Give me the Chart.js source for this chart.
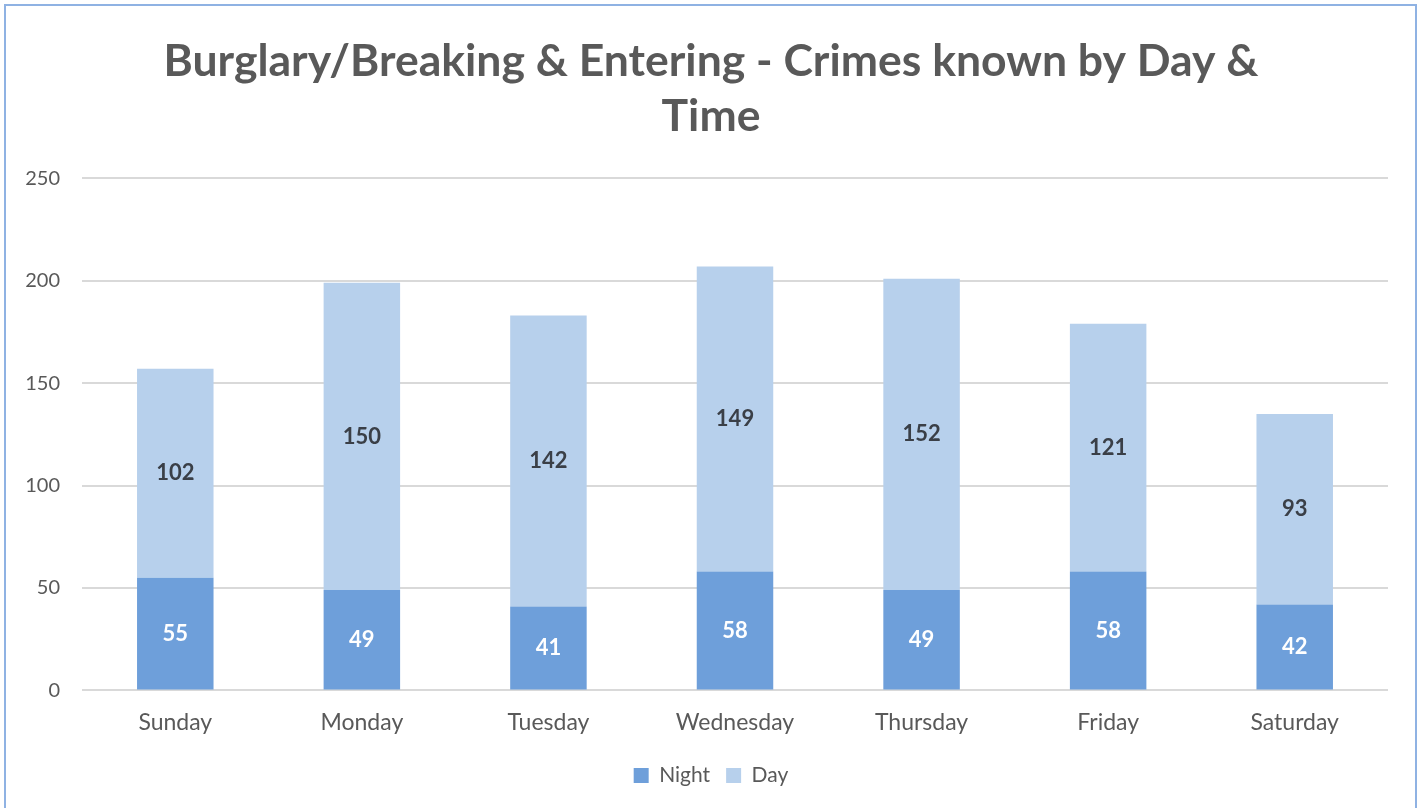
<!DOCTYPE html>
<html>
<head>
<meta charset="utf-8">
<script src="https://cdn.jsdelivr.net/npm/chart.js@4"></script>
<style>
  html, body { margin: 0; padding: 0; background: #ffffff; }
  #wrap { position: absolute; left: 0; top: 0; width: 1422px; height: 808px; }
  #frame { position: absolute; left: 4px; top: 4px; width: 1413px; height: 820px; border: 2px solid #8fb2e3; box-sizing: border-box; pointer-events: none; }
  canvas { position: absolute; left: 0; top: 0; }
</style>
</head>
<body>
<div id="wrap">
  <canvas id="c" width="1422" height="808"></canvas>
  <div id="frame"></div>
</div>
<script>
const categories = ["Sunday", "Monday", "Tuesday", "Wednesday", "Thursday", "Friday", "Saturday"];
const nightValues = [55, 49, 41, 58, 49, 58, 42];
const dayValues = [102, 150, 142, 149, 152, 121, 93];
const titleLines = ["Burglary/Breaking & Entering - Crimes known by Day &", "Time"];

const FONT = "Lato, 'Open Sans', sans-serif";

const segmentLabels = {
  id: 'segmentLabels',
  afterDatasetsDraw(chart) {
    const ctx = chart.ctx;
    ctx.save();
    ctx.font = "bold 22px " + FONT;
    ctx.textAlign = 'center';
    ctx.textBaseline = 'middle';
    chart.data.datasets.forEach((ds, i) => {
      const meta = chart.getDatasetMeta(i);
      ctx.fillStyle = ds.labelColor;
      meta.data.forEach((el, j) => {
        const p = el.getProps(['x', 'y', 'base'], true);
        ctx.fillText(String(ds.data[j]), p.x, (p.y + p.base) / 2);
      });
    });
    ctx.restore();
  }
};

new Chart(document.getElementById('c'), {
  type: 'bar',
  data: {
    labels: categories,
    datasets: [
      { label: 'Night', data: nightValues, backgroundColor: '#6e9fda', labelColor: '#ffffff',
        barPercentage: 0.41, categoryPercentage: 1.0 },
      { label: 'Day', data: dayValues, backgroundColor: '#b7d0ec', labelColor: '#3a3f47',
        barPercentage: 0.41, categoryPercentage: 1.0 }
    ]
  },
  options: {
    responsive: false,
    animation: false,
    layout: { padding: { left: 8, right: 8, top: 0, bottom: 12 } },
    plugins: {
      title: {
        display: true,
        text: titleLines,
        color: '#595959',
        font: { family: FONT, size: 44.5, weight: 'bold', lineHeight: 1.24 },
        padding: { top: 34, bottom: 34 }
      },
      legend: {
        position: 'bottom',
        labels: {
          color: '#595959',
          font: { family: FONT, size: 21 },
          boxWidth: 15, boxHeight: 15, padding: 16
        }
      },
      tooltip: { enabled: false }
    },
    scales: {
      x: {
        stacked: true,
        grid: { display: false },
        border: { display: false },
        afterFit: (scale) => { scale.height += 3; },
        ticks: { color: '#595959', font: { family: FONT, size: 23 }, padding: 10 }
      },
      y: {
        stacked: true,
        min: 0, max: 250,
        afterFit: (scale) => { scale.width = 74; },
        ticks: { stepSize: 50, color: '#595959', font: { family: FONT, size: 20 }, padding: 22 },
        grid: { color: '#d9d9d9', lineWidth: 2, drawTicks: false },
        border: { display: false }
      },
      spacer: {
        type: 'linear',
        position: 'right',
        display: true,
        afterFit: (scale) => { scale.width = 26; },
        grid: { display: false, drawTicks: false },
        border: { display: false },
        ticks: { display: false }
      }
    }
  },
  plugins: [segmentLabels]
});
</script>
</body>
</html>
